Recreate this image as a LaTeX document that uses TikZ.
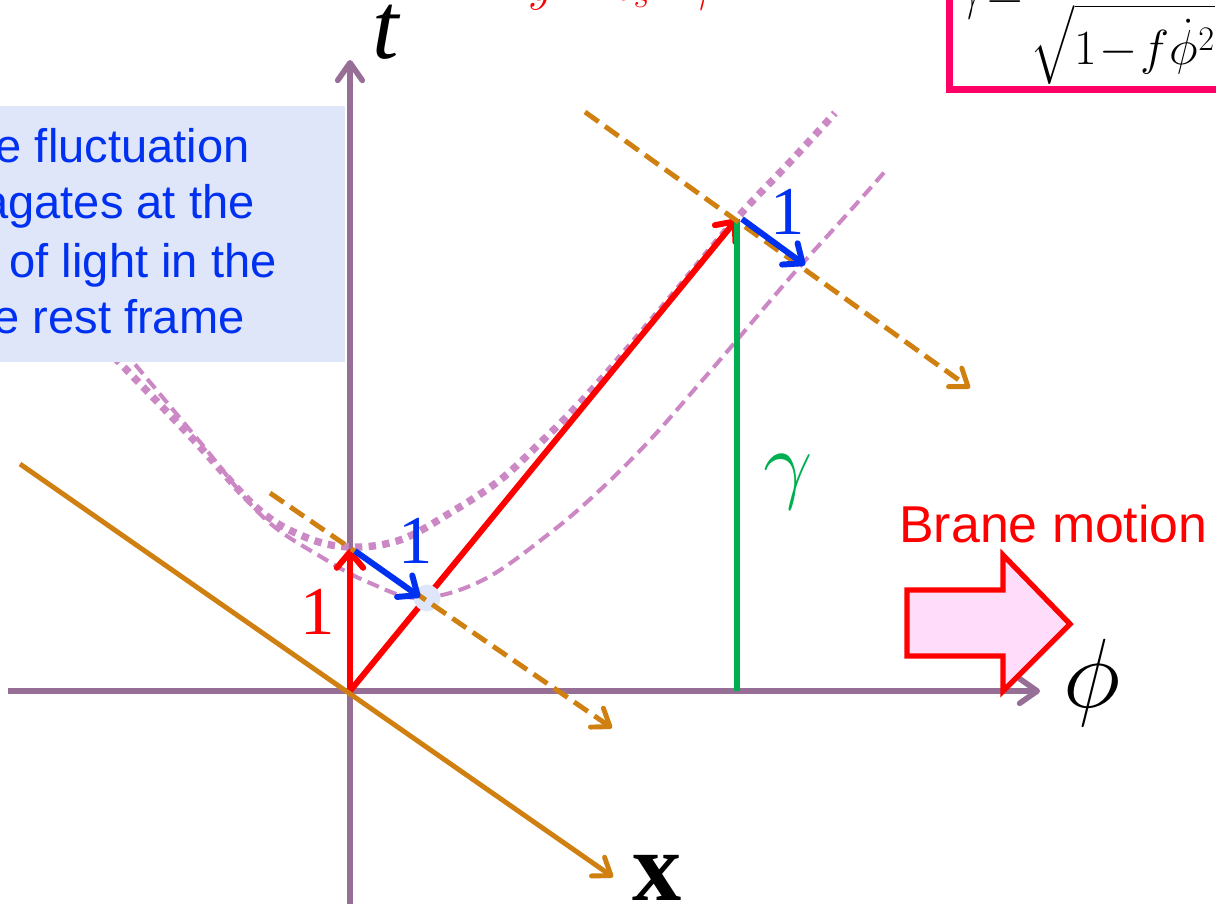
\RequirePackage{fix-cm}
\documentclass[tikz,border=0pt]{standalone}
\usepackage{amsmath}
\usepackage{fontspec}
\setmainfont{Liberation Serif}
\newfontfamily\arialfont{Liberation Sans}
\usepackage{tikz}
\usetikzlibrary{arrows.meta}
\definecolor{axispurple}{RGB}{150,110,150}
\definecolor{hyppink}{RGB}{204,136,196}
\definecolor{frameorange}{RGB}{208,128,16}
\definecolor{vecblue}{RGB}{0,48,240}
\definecolor{boostgreen}{RGB}{0,176,80}
\definecolor{eqpink}{RGB}{255,0,102}
\definecolor{notefill}{RGB}{224,230,250}
\definecolor{motionfill}{RGB}{255,220,250}
\tikzset{
	axis/.style={draw=axispurple, line width=3.2pt, -{Straight Barb[length=10pt, width=14pt, round]}},
	vec/.style={line width=3.4pt, -{Straight Barb[length=9pt, width=15pt, round]}},
	frame/.style={draw=frameorange, line width=2.8pt, -{Straight Barb[length=9pt, width=13pt, round]}}
}

\begin{document}
\begin{tikzpicture}[
		x=0.02cm, y=-0.02cm,
		simul/.style={frame, dash pattern=on 9.5pt off 4.5pt},
		hypdot/.style={draw=hyppink, line width=4.2pt, dash pattern=on 4.2pt off 3.6pt},
		hypdash/.style={draw=hyppink, line width=2.3pt, dash pattern=on 7pt off 3.8pt},
		lbl/.style={font=\fontsize{39}{39}\selectfont, inner sep=0pt},
		noteline/.style={text=vecblue, font=\arialfont\fontsize{26.8}{30}\selectfont, anchor=base east, inner sep=0pt}
		]
		\useasboundingbox (0,0) rectangle (1216,903);
		
		\coordinate (O) at (350,691);
		\coordinate (A) at (350,549);
		\coordinate (B) at (420,597);
		\coordinate (P) at (737,219);
		\coordinate (Q) at (805,265);
		\coordinate (G) at (737,691);
		\coordinate (tbot) at (350,910);
		\coordinate (ttop) at (350,60);
		\coordinate (phileft) at (8,691);
		\coordinate (phiright) at (1040,691);
		\coordinate (xa) at (20,464);
		\coordinate (xb) at (613,877);
		\coordinate (sa) at (270,493);
		\coordinate (sb) at (612,728);
		\coordinate (sc) at (585,112);
		\coordinate (sd) at (970,388);
		
		\draw[axis] (tbot) -- (ttop);
		\draw[axis] (phileft) -- (phiright);
		
		\draw[hypdot] plot[smooth, tension=0.6] coordinates {(95,338) (117,360) (190,436) (257,508) (305,537) (350,547) (400,540) (450,513) (500,480) (540,443) (577,406) (620,358) (680,287) (737,218) (790,162) (835,113)};
		\draw[hypdash] plot[smooth, tension=0.6] coordinates {(110,336) (133,362) (200,442) (263,517) (323,558) (370,583) (420,598) (483,580) (550,533) (600,490) (650,440) (700,383) (737,340) (770,301) (802,264) (850,211) (888,168)};
		
		\draw[vec, red] (O) -- (A);
		\draw[vec, red] (O) -- (P);
		\draw[boostgreen, line width=3.2pt] (G) -- (P);
		\fill[notefill] (427,598) circle[radius=7.6pt];
		
		\fill[notefill] (-10,106) rectangle (345,362);
		\node[noteline] (note1) at (250,162) {The fluctuation};
		\node[noteline] (note2) at (255,218) {propagates at the};
		\node[noteline] (note3) at (277,277) {speed of light in the};
		\node[noteline] (note4) at (245,333) {brane rest frame};
		
		\draw[frame] (xa) -- (xb);
		\draw[simul] (sa) -- (sb);
		\draw[simul] (sc) -- (sd);
		
		\draw[vec, vecblue] ([shift={(5,2)}]A) -- (B);
		\draw[vec, vecblue] ([shift={(5,0)}]P) -- (Q);
		
		\node[lbl, text=red] (onet) at (318,612) {1};
		\node[lbl, text=vecblue] (onea) at (416,541) {1};
		\node[lbl, text=vecblue] (onep) at (788,212) {1};
		\node[text=boostgreen, font=\fontsize{50}{50}\selectfont, inner sep=0pt] (gam) at (788,482) {$\gamma$};
		
		\node[font=\fontsize{54}{54}\selectfont, inner sep=0pt] (tlab) at (387,32) {\textit{t}};
		\node[font=\fontsize{56}{56}\selectfont, inner sep=0pt] (philab) at (1092,683) {$\phi$};
		\node[font=\fontsize{56}{56}\selectfont\bfseries, inner sep=0pt] (xlab) at (657,878) {x};
		
		\draw[red, line width=3pt, fill=motionfill] (907,590) -- (1003,590) -- (1003,555) -- (1070,624) -- (1003,691) -- (1003,656) -- (907,656) -- cycle;
		\node[text=red, font=\arialfont\fontsize{29.5}{30}\selectfont, anchor=base west, inner sep=0pt] (motion) at (899,542) {Brane motion};
		
		\node[text=red, font=\fontsize{28}{28}\selectfont, anchor=base west, inner sep=0pt] (toprel) at (528,0) {$y = t_s\cdot\gamma$};
		\node[draw=eqpink, line width=4pt, anchor=south west, inner xsep=3pt, inner ysep=3pt, font=\fontsize{28}{32}\selectfont] (gdef) at (946,93) {$\displaystyle\gamma\!=\!\frac{1}{\sqrt{1\!-\!f\dot{\phi}^{2}}}$};
	\end{tikzpicture}
\end{document}
